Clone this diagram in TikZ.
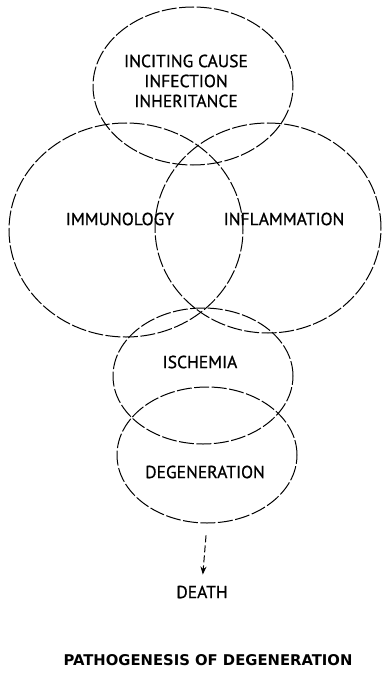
\documentclass[tikz,border=0pt]{standalone}
\usepackage{fontspec}
\setmainfont{PT Sans}
\newfontfamily\labelfont[FakeBold=0.8]{PT Sans}
\newfontfamily\titlefont{DejaVu Sans}
\usetikzlibrary{shapes.geometric,arrows.meta}

\begin{document}
\begin{tikzpicture}[x=1pt, y=-1pt,
    ring/.style={ellipse, draw, line width=1pt, dash pattern=on 15pt off 2.5pt, inner sep=0pt},
    term/.style={font=\labelfont\fontsize{17.5}{20}\selectfont, align=center, inner sep=1pt}]
    \useasboundingbox (0,0) rectangle (382,674);

    % the overlapping ellipses
    \node [ring, minimum width=200pt, minimum height=158pt] (cause) at (193,86) {};
    \node [ring, minimum width=234pt, minimum height=214pt] (immuno) at (126,230) {};
    \node [ring, minimum width=226pt, minimum height=210pt] (inflam) at (268,228) {};
    \node [ring, minimum width=180pt, minimum height=136pt] (isch) at (203,376) {};
    \node [ring, minimum width=180pt, minimum height=136pt] (degen) at (207,455) {};

    % labels
    \node [term] (causetext) at (186,81) {INCITING CAUSE\\INFECTION\\INHERITANCE};
    \node [term] (immunotext) at (120,219) {IMMUNOLOGY};
    \node [term] (inflamtext) at (284,219) {INFLAMMATION};
    \node [term] (ischtext) at (200,362) {ISCHEMIA};
    \node [term] (degentext) at (205,472) {DEGENERATION};
    \node [term] (death) at (202,592) {DEATH};

    \draw [line width=1pt, dash pattern=on 7pt off 3pt, -{Stealth[length=8pt,width=6pt]}, shorten <=12pt, shorten >=10pt] (degen.south) -- (death.north);

    \node [font=\titlefont\fontsize{14.8}{16}\selectfont\bfseries] (title) at (208,660) {PATHOGENESIS OF DEGENERATION};
\end{tikzpicture}
\end{document}
